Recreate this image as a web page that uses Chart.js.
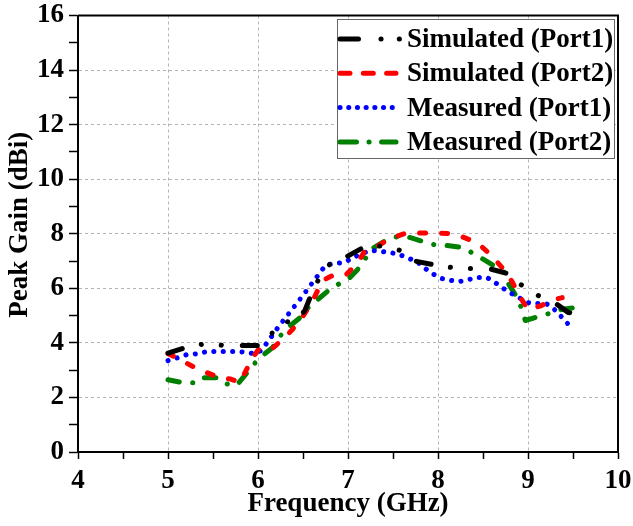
<!DOCTYPE html>
<html>
<head>
<meta charset="utf-8">
<script src="https://cdn.jsdelivr.net/npm/chart.js@4.4.1/dist/chart.umd.min.js"></script>
<style>
  html, body { margin: 0; padding: 0; background: #fff; }
  #wrap { width: 633px; height: 526px; }
</style>
</head>
<body>
<div id="wrap"><canvas id="chart" width="633" height="526"></canvas></div>
<script>
// series values (GHz / dBi)
const sim1Freq = [5.0, 5.22, 5.42, 5.65, 5.8, 6.0, 6.16, 6.31, 6.38, 6.52, 6.61, 6.69, 6.83, 6.98, 7.2, 7.4, 7.58, 7.71, 7.93, 8.13, 8.36, 8.56, 8.77, 8.9, 9.09, 9.31, 9.45, 9.5];
const sim1Gain = [3.62, 3.86, 3.97, 3.9, 3.9, 3.9, 4.37, 4.8, 4.7, 5.18, 5.92, 6.43, 7.02, 7.15, 7.55, 7.55, 7.39, 7.02, 6.88, 6.77, 6.73, 6.73, 6.54, 6.18, 5.77, 5.44, 5.11, 5.1];

const sim2Freq = [5.0, 5.1, 5.2, 5.3, 5.44, 5.57, 5.69, 5.8, 5.94, 6.02, 6.16, 6.3, 6.39, 6.47, 6.6, 6.72, 6.83, 6.97, 7.1, 7.18, 7.31, 7.45, 7.64, 7.75, 7.98, 8.14, 8.26, 8.37, 8.47, 8.57, 8.66, 8.76, 8.83, 8.9, 9.0, 9.15, 9.26, 9.38];
const sim2Gain = [3.61, 3.45, 3.27, 3.09, 2.9, 2.72, 2.68, 2.55, 3.46, 3.82, 3.8, 4.2, 4.52, 4.82, 5.5, 6.29, 6.47, 6.47, 6.9, 7.33, 7.51, 7.8, 8.02, 8.03, 8.03, 8.0, 7.9, 7.76, 7.57, 7.28, 6.95, 6.58, 6.2, 5.75, 5.22, 5.37, 5.55, 5.66];

const meas1Freq = [5.0, 5.11, 5.21, 5.32, 5.43, 5.6, 5.75, 5.86, 5.96, 6.04, 6.23, 6.49, 6.75, 6.84, 6.96, 7.06, 7.24, 7.35, 7.46, 7.57, 7.67, 7.76, 7.84, 7.93, 8.04, 8.14, 8.24, 8.34, 8.44, 8.54, 8.62, 8.71, 8.8, 8.9, 8.99, 9.09, 9.2, 9.27, 9.34, 9.42, 9.5];
const meas1Gain = [3.35, 3.46, 3.57, 3.6, 3.68, 3.68, 3.68, 3.66, 3.6, 3.73, 4.6, 5.7, 6.84, 6.91, 6.95, 7.13, 7.39, 7.36, 7.32, 7.24, 7.1, 6.99, 6.77, 6.55, 6.36, 6.29, 6.25, 6.32, 6.4, 6.4, 6.25, 6.03, 5.84, 5.66, 5.48, 5.44, 5.44, 5.3, 5.07, 4.78, 4.5];

const meas2Freq = [5.0, 5.16, 5.29, 5.35, 5.57, 5.65, 5.76, 5.87, 5.95, 6.02, 6.16, 6.24, 6.33, 6.47, 6.55, 6.65, 6.81, 6.91, 6.99, 7.15, 7.2, 7.27, 7.46, 7.57, 7.68, 7.87, 7.99, 8.1, 8.26, 8.37, 8.47, 8.65, 8.75, 8.78, 8.9, 8.93, 8.97, 9.15, 9.27, 9.37, 9.51];
const meas2Gain = [2.65, 2.54, 2.54, 2.72, 2.72, 2.5, 2.43, 2.87, 3.2, 3.46, 3.82, 4.23, 4.56, 4.93, 5.26, 5.55, 5.99, 6.18, 6.29, 6.84, 7.13, 7.46, 7.83, 7.9, 7.87, 7.68, 7.57, 7.57, 7.5, 7.32, 7.13, 6.77, 6.55, 6.18, 5.55, 5.22, 4.82, 5.0, 5.11, 5.22, 5.29];

const seriesLabels = ['Simulated (Port1)', 'Simulated (Port2)', 'Measured (Port1)', 'Measured (Port2)'];

const FONT = "'Liberation Serif', 'Times New Roman', serif";

function toPoints(xs, ys) {
    return xs.map((x, i) => ({ x: x, y: ys[i] }));
}

function makeSet(label, xs, ys, color, dash, legendDash, legendLen) {
    return {
        label: label,
        data: toPoints(xs, ys),
        borderColor: color,
        backgroundColor: color,
        borderWidth: 5,
        borderDash: dash,
        borderCapStyle: 'round',
        borderJoinStyle: 'round',
        pointRadius: 0,
        tension: 0,
        fill: false,
        legendDash: legendDash, // the legend sample is drawn a bit tighter
        legendLen: legendLen
    };
}

// box with the line samples, like the original legend
const boxLegend = {
    id: 'boxLegend',
    afterDraw(chart) {
        const ctx = chart.ctx;
        const area = chart.chartArea;
        const right = area.right - 4;
        const left = right - 277;
        const top = area.top + 3.5;
        const h = 139;
        const rowH = 34.3;
        ctx.save();
        ctx.fillStyle = '#fff';
        ctx.fillRect(left, top, right - left, h);
        ctx.strokeStyle = '#666';
        ctx.lineWidth = 1;
        ctx.strokeRect(left + 0.5, top + 0.5, right - left, h);

        chart.data.datasets.forEach((ds, i) => {
            const y = top + 20 + i * rowH;
            ctx.beginPath();
            ctx.strokeStyle = ds.borderColor;
            ctx.lineWidth = ds.borderWidth;
            ctx.lineCap = 'round';
            ctx.setLineDash(ds.legendDash);
            ctx.moveTo(left + 3, y);
            ctx.lineTo(left + 3 + ds.legendLen, y);
            ctx.stroke();
            ctx.setLineDash([]);
            ctx.fillStyle = '#000';
            ctx.font = 'bold 27px ' + FONT;
            ctx.textAlign = 'left';
            ctx.textBaseline = 'middle';
            ctx.fillText(ds.label, left + 70, y + 1);
        });
        ctx.restore();
    }
};

// top and right frame lines, and the y title (sits a little above centre in the original)
const frame = {
    id: 'frame',
    beforeDatasetsDraw(chart) {
        const ctx = chart.ctx;
        const a = chart.chartArea;
        ctx.save();
        ctx.strokeStyle = '#000';
        ctx.lineWidth = 2;
        ctx.beginPath();
        ctx.moveTo(a.left, a.top);
        ctx.lineTo(a.right, a.top);
        ctx.lineTo(a.right, a.bottom);
        ctx.stroke();

        ctx.translate(20, (a.top + a.bottom) / 2 - 9);
        ctx.rotate(-Math.PI / 2);
        ctx.fillStyle = '#000';
        ctx.font = 'bold 27px ' + FONT;
        ctx.textAlign = 'center';
        ctx.textBaseline = 'middle';
        ctx.fillText('Peak Gain (dBi)', 0, 0);
        ctx.restore();
    }
};

new Chart(document.getElementById('chart'), {
    type: 'line',
    data: {
        datasets: [
            makeSet(seriesLabels[0], sim1Freq, sim1Gain, '#000000', [15, 19.5, 0.1, 20, 0.1, 21], [18.5, 22.5, 0.1, 18.2, 0.1, 30], 59.5),
            makeSet(seriesLabels[1], sim2Freq, sim2Gain, '#ff0000', [6, 16], [10, 13.3], 56),
            makeSet(seriesLabels[2], meas1Freq, meas1Gain, '#0000ff', [0.1, 9.3], [0.1, 8.6], 60),
            makeSet(seriesLabels[3], meas2Freq, meas2Gain, '#008000', [11.5, 13.5, 0.1, 13.5], [16.5, 12.5, 0.1, 12.5], 56)
        ]
    },
    options: {
        responsive: false,
        animation: false,
        devicePixelRatio: 1,
        layout: { padding: { top: 15.5, right: 15, left: 0, bottom: 0 } },
        plugins: {
            legend: { display: false },
            tooltip: { enabled: false }
        },
        scales: {
            x: {
                type: 'linear',
                min: 4,
                max: 10,
                afterFit: s => { s.height = 74; s.paddingRight = 0; s.paddingLeft = 0; },
                ticks: {
                    stepSize: 0.5,
                    autoSkip: false,
                    maxRotation: 0,
                    padding: 6,
                    color: '#000',
                    font: { family: FONT, size: 27, weight: 'bold' },
                    callback: v => Number.isInteger(v) ? v : ''
                },
                grid: {
                    color: c => (c.tick && Number.isInteger(c.tick.value)) ? '#b4b4b4' : 'rgba(0,0,0,0)',
                    lineWidth: 1,
                    tickColor: '#000',
                    tickLength: 7,
                    tickWidth: 1.5
                },
                border: { display: true, color: '#000', width: 2, dash: [3, 3] },
                title: {
                    display: true,
                    text: 'Frequency (GHz)',
                    color: '#000',
                    font: { family: FONT, size: 27, weight: 'bold' },
                    padding: { top: 0, bottom: 6 }
                }
            },
            y: {
                min: 0,
                max: 16,
                afterFit: s => { s.width = 78; s.paddingTop = 0; s.paddingBottom = 0; },
                ticks: {
                    stepSize: 1,
                    autoSkip: false,
                    padding: 5,
                    color: '#000',
                    font: { family: FONT, size: 27, weight: 'bold' },
                    callback: v => (v % 2 === 0) ? v : ''
                },
                grid: {
                    color: c => (c.tick && c.tick.value % 2 === 0) ? '#b4b4b4' : 'rgba(0,0,0,0)',
                    lineWidth: 1,
                    tickColor: '#000',
                    tickLength: 9,
                    tickWidth: 1.5
                },
                border: { display: true, color: '#000', width: 2, dash: [3, 3] },
                title: { display: false }
            }
        }
    },
    plugins: [frame, boxLegend]
});
</script>
</body>
</html>
